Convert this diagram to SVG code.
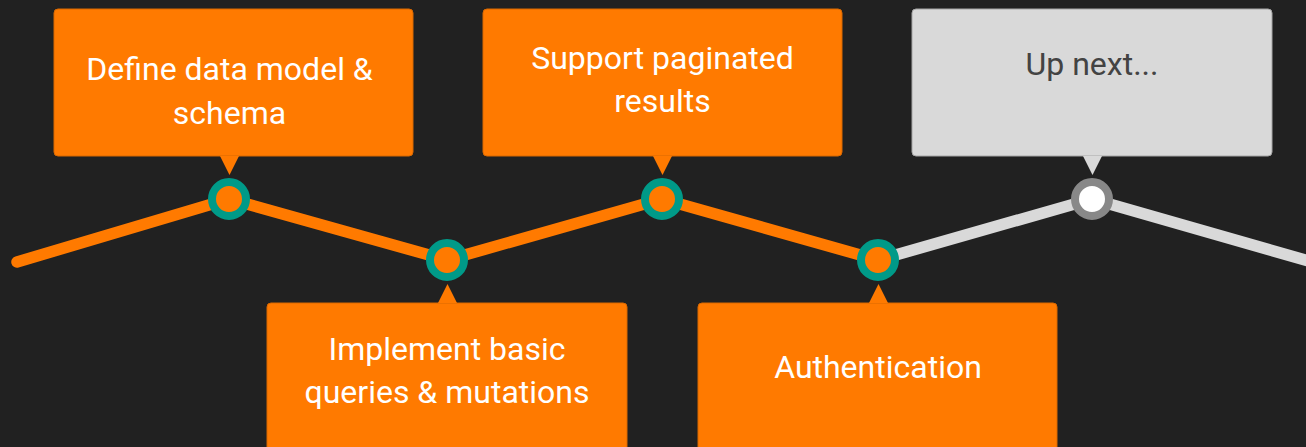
<svg xmlns="http://www.w3.org/2000/svg" width="1306" height="447" viewBox="0 0 1306 447">
<style>
.bg{fill:#212121}
.ob{fill:#ff7a00;stroke:#d96800;stroke-width:1}
.gb{fill:#d9d9d9;stroke:#a6a6a6;stroke-width:1}
.ot{fill:#ff7a00}
.gt{fill:#d9d9d9}
.lo{fill:none;stroke:#ff7a00;stroke-width:11.5;stroke-linecap:round;stroke-linejoin:round}
.lg{fill:none;stroke:#d9d9d9;stroke-width:11.5;stroke-linecap:round;stroke-linejoin:round}
.dot{fill:#ff7a00;stroke:#009a88;stroke-width:8}
.dotg{fill:#ffffff;stroke:#888888;stroke-width:8}
.wt{font-family:Roboto,"Liberation Sans",sans-serif;font-size:32px;fill:#ffffff;text-anchor:middle}
.dt{font-family:Roboto,"Liberation Sans",sans-serif;font-size:32px;fill:#434343;text-anchor:middle}
</style>
<rect class="bg" x="0" y="0" width="1306" height="447"/>
<g id="connectors">
<polyline class="lo" points="17,262 229,199 447,260 662,199 878,260"/>
<polyline class="lg" points="878,260 1092,199 1312,262"/>
</g>
<g id="node1">
<rect class="ob" x="54" y="9" width="359" height="147" rx="4"/>
<polygon class="ot" points="220,156 239,156 229.5,175"/>
<text class="wt" x="229.5" y="80">Define data model &amp;</text>
<text class="wt" x="229.5" y="124">schema</text>
<circle class="dot" cx="229" cy="199" r="17"/>
</g>
<g id="node2">
<rect class="ob" x="267" y="303" width="360" height="150" rx="4"/>
<polygon class="ot" points="438,303 457,303 447.5,284"/>
<text class="wt" x="447" y="360">Implement basic</text>
<text class="wt" x="447" y="403">queries &amp; mutations</text>
<circle class="dot" cx="447" cy="260" r="17"/>
</g>
<g id="node3">
<rect class="ob" x="483" y="9" width="359" height="147" rx="4"/>
<polygon class="ot" points="653,156 672,156 662.5,175"/>
<text class="wt" x="662.5" y="69">Support paginated</text>
<text class="wt" x="662.5" y="112">results</text>
<circle class="dot" cx="662" cy="199" r="17"/>
</g>
<g id="node4">
<rect class="ob" x="698" y="303" width="359" height="150" rx="4"/>
<polygon class="ot" points="869,303 888,303 878.5,284"/>
<text class="wt" x="878" y="378">Authentication</text>
<circle class="dot" cx="878" cy="260" r="17"/>
</g>
<g id="node5">
<rect class="gb" x="912" y="9" width="360" height="147" rx="4"/>
<polygon class="gt" points="1083,156 1102,156 1092.5,175"/>
<text class="dt" x="1092" y="75">Up next...</text>
<circle class="dotg" cx="1092" cy="199" r="17"/>
</g>
</svg>
